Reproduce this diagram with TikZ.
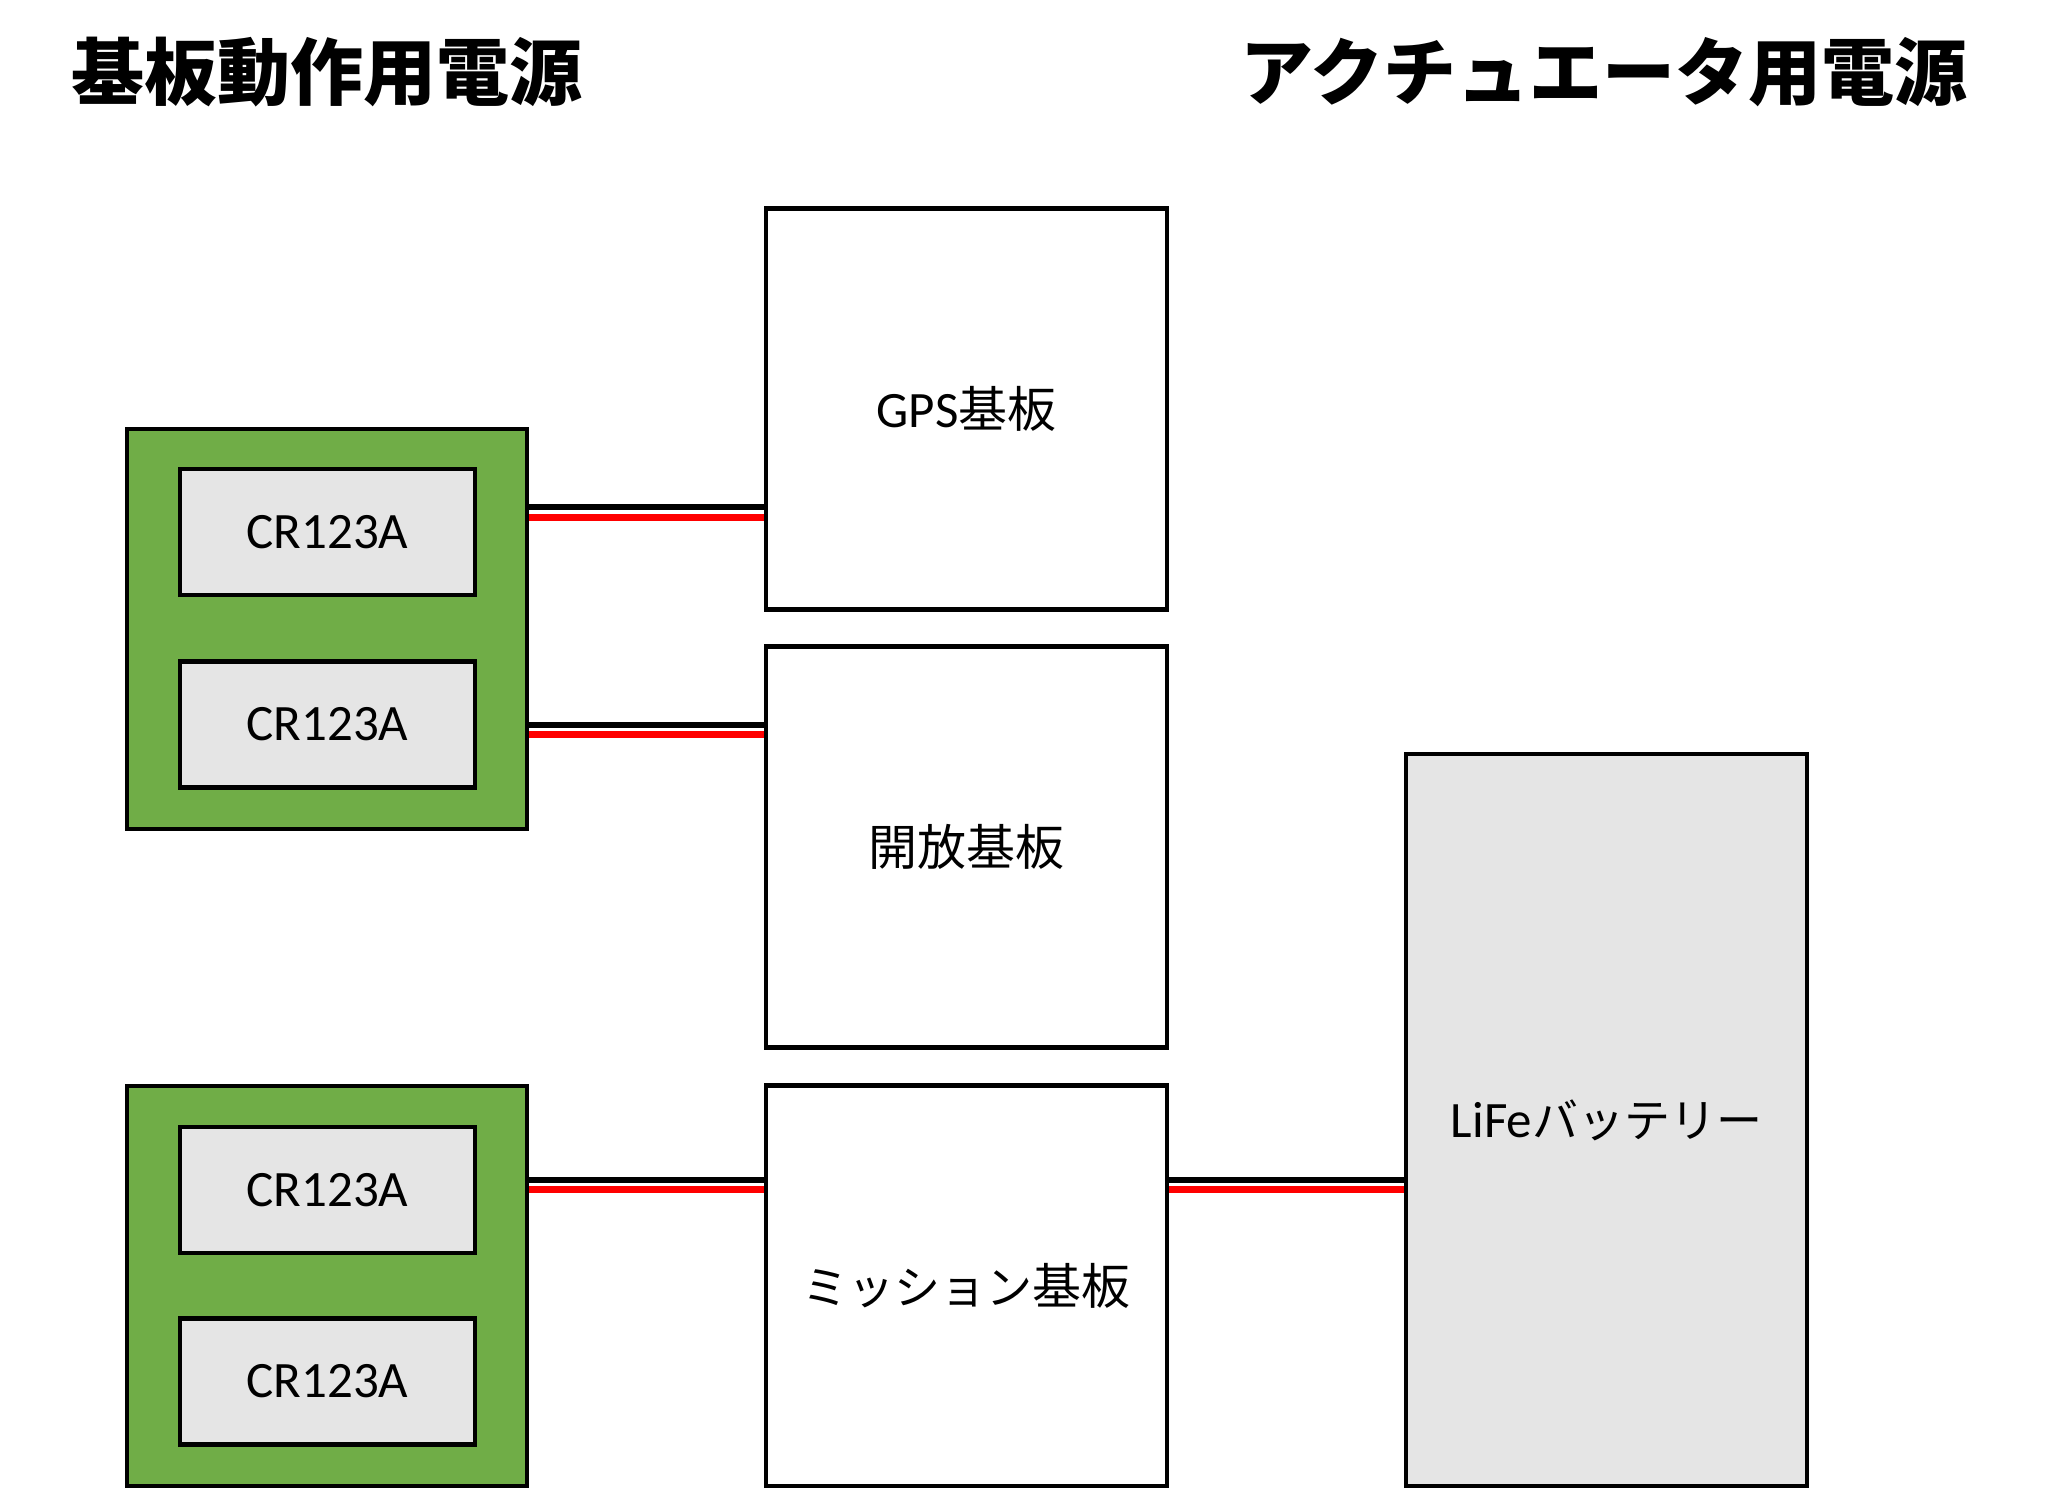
\documentclass[tikz,border=0pt]{standalone}
\usepackage{fontspec}
\setmainfont{Carlito}
\newfontfamily\cjk{Noto Sans CJK JP}
\newcommand{\jtxt}[1]{{\cjk\fontsize{49}{54}\selectfont #1}}
\newcommand{\ktxt}[1]{{\cjk\fontsize{46}{54}\selectfont #1}}
\definecolor{grn}{HTML}{70AD47}
\definecolor{lgray}{HTML}{E5E5E5}
\definecolor{wred}{HTML}{FF0000}
\tikzset{
  pack/.style={draw=black, line width=4.5pt, fill=grn, minimum width=400pt, minimum height=400pt, inner sep=0pt},
  cell/.style={draw=black, line width=4.5pt, fill=lgray, minimum width=295pt, minimum height=126pt, inner sep=0pt, font=\fontsize{51}{56}\selectfont},
  board/.style={draw=black, line width=4.5pt, fill=white, minimum width=401pt, minimum height=401pt, inner sep=0pt, font=\fontsize{51}{56}\selectfont},
  batt/.style={draw=black, line width=4.5pt, fill=lgray, minimum width=401pt, minimum height=732pt, inner sep=0pt, font=\fontsize{51}{56}\selectfont},
  wireblack/.style={draw=black, line width=6pt},
  wirered/.style={draw=wred, line width=7pt},
  titletext/.style={inner sep=0pt, font=\cjk\bfseries\fontsize{73}{80}\selectfont}
}
\begin{document}
\begin{tikzpicture}[x=1pt,y=-1pt]
\useasboundingbox[fill=white] (0,0) rectangle (2056,1488);
% titles
\node[titletext] (t1) at (327,72) {基板動作用電源};
\node[titletext] (t2) at (1604,72) {アクチュエータ用電源};
% battery packs
\node[pack] (g1) at (327,629) {};
\node[cell] (c1) at (327.5,532) {CR123A};
\node[cell] (c2) at (327.5,724.5) {CR123A};
\node[pack] (g2) at (327,1286) {};
\node[cell] (c3) at (327.5,1190) {CR123A};
\node[cell] (c4) at (327.5,1381.5) {CR123A};
% boards
\node[board] (gps) at (966.5,409) {GPS\jtxt{基板}};
\node[board] (kaiho) at (966.5,847) {\jtxt{開放基板}};
\node[board] (mis) at (966.5,1286) {\ktxt{ミッション}\jtxt{基板}};
\node[batt] (life) at (1606.5,1120) {LiFe\ktxt{バッテリー}};
% wire heights
\coordinate (w1b) at (0,507);
\coordinate (w1r) at (0,517);
\coordinate (w2b) at (0,725);
\coordinate (w2r) at (0,734);
\coordinate (w3b) at (0,1180);
\coordinate (w3r) at (0,1189.5);
% wires
\draw[wireblack] (g1.east |- w1b) -- (gps.west |- w1b);
\draw[wirered] (g1.east |- w1r) -- (gps.west |- w1r);
\draw[wireblack] (g1.east |- w2b) -- (kaiho.west |- w2b);
\draw[wirered] (g1.east |- w2r) -- (kaiho.west |- w2r);
\draw[wireblack] (g2.east |- w3b) -- (mis.west |- w3b);
\draw[wirered] (g2.east |- w3r) -- (mis.west |- w3r);
\draw[wireblack] (mis.east |- w3b) -- (life.west |- w3b);
\draw[wirered] (mis.east |- w3r) -- (life.west |- w3r);
\end{tikzpicture}
\end{document}
